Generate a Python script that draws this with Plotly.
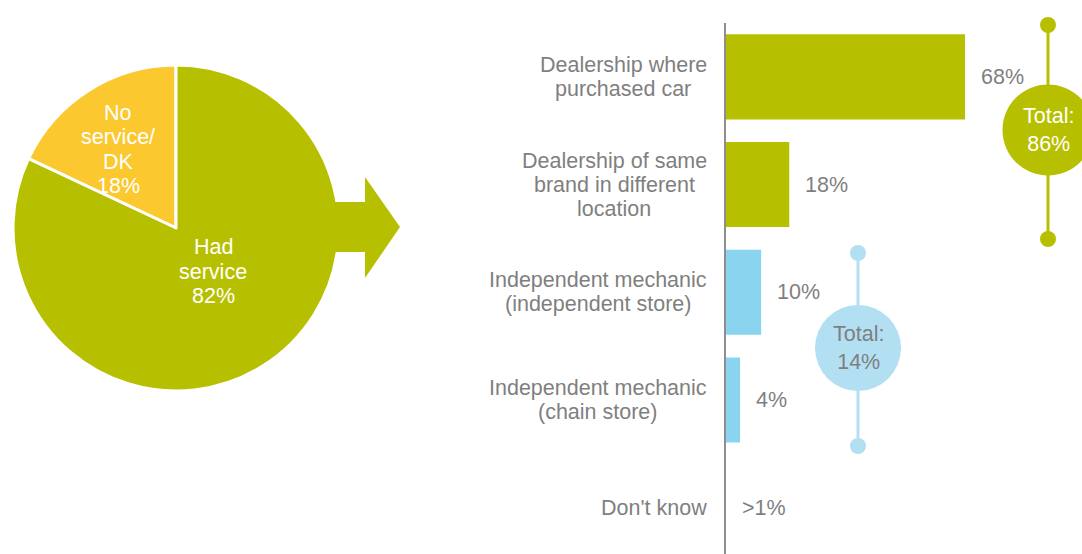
import plotly.graph_objects as go

# ---- data ----
pie_labels = ["No<br>service/<br>DK", "Had<br>service"]
pie_values = [18, 82]

categories = [
    "Dealership where<br>purchased car",
    "Dealership of same<br>brand in different<br>location",
    "Independent mechanic<br>(independent store)",
    "Independent mechanic<br>(chain store)",
    "Don't know",
]
bar_values = [68, 18, 10, 4, 0]
value_labels = ["68%", "18%", "10%", "4%", ">1%"]
dealer_group = [0, 1]        # indices summed into the dealership total
independent_group = [2, 3]   # indices summed into the independent total

# ---- style ----
GREEN = "#B7C000"
YELLOW = "#FCC830"
BLUE = "#8AD4EF"
LIGHT_BLUE = "#B2E0F2"
GRAY = "#7F7F7F"
AXIS_GRAY = "#8E8E8E"
FONT = "Liberation Sans, Arial, sans-serif"
FS = 21.5

W, H = 1082, 554


def px(x):
    return x / W


def py(y):
    return 1 - y / H


# Arial / Liberation Sans advance widths (per em) for centring multi-line labels
CHAR_W = {
    "a": .556, "b": .556, "c": .5, "d": .556, "e": .556, "f": .278, "g": .556,
    "h": .556, "i": .222, "k": .5, "l": .222, "m": .833, "n": .556, "o": .556,
    "p": .556, "r": .333, "s": .5, "t": .278, "u": .556, "v": .5, "w": .722,
    "D": .722, "I": .278, "H": .722, "N": .722, "K": .667, " ": .278, "(": .333,
    ")": .333, "'": .191, "/": .278,
}


def text_width(s, size=FS):
    return sum(CHAR_W.get(ch, .556) for ch in s) * size


fig = go.Figure()

# pie: centre (176, 228), radius 163 px; first slice runs anticlockwise from 12 o'clock
fig.add_trace(go.Pie(
    labels=[l.replace("<br>", " ") for l in pie_labels],
    values=pie_values,
    sort=False,
    direction="clockwise",
    rotation=-64.8,
    marker=dict(colors=[YELLOW, GREEN], line=dict(color="white", width=3)),
    textinfo="none",
    hoverinfo="label+percent",
    showlegend=False,
    domain=dict(x=[px(13), px(339)], y=[py(391), py(65)]),
))

bar_colors = [GREEN if i in dealer_group else BLUE for i in range(len(categories))]
fig.add_trace(go.Bar(
    x=bar_values,
    y=categories,
    orientation="h",
    marker=dict(color=bar_colors, line=dict(width=0)),
    width=0.79,
    showlegend=False,
    hoverinfo="x+y",
))

X0 = 726
PX_PER_PCT = 3.515
fig.update_layout(
    width=W, height=H,
    margin=dict(l=0, r=0, t=0, b=0),
    paper_bgcolor="white",
    plot_bgcolor="white",
    font=dict(family=FONT, size=FS, color=GRAY),
    xaxis=dict(
        domain=[px(X0), 1],
        range=[0, (W - X0) / PX_PER_PCT],
        showgrid=False, zeroline=False, showticklabels=False, showline=False,
        fixedrange=True,
    ),
    yaxis=dict(
        domain=[0, py(23)],
        type="category",
        categoryorder="array",
        categoryarray=categories,
        range=[4.43, -0.5],
        showgrid=False, zeroline=False, showticklabels=False,
        showline=True, linecolor=AXIS_GRAY, linewidth=2,
        fixedrange=True,
    ),
)

annotations = []
LINE = 24

# category labels: block right-aligned left of the axis, lines centred
for cat in categories:
    lines = cat.split("<br>")
    block_w = max(text_width(l) for l in lines)
    cx = X0 - 19 - block_w / 2
    n = len(lines)
    for i, l in enumerate(lines):
        annotations.append(dict(
            x=px(cx), xref="paper", y=cat, yref="y",
            yshift=-(i - (n - 1) / 2) * LINE,
            text=l, showarrow=False, xanchor="center", yanchor="middle",
            font=dict(size=FS, color=GRAY),
        ))

# value labels beside bars
for cat, v, lab in zip(categories, bar_values, value_labels):
    annotations.append(dict(
        x=v, xref="x", y=cat, yref="y", xshift=14,
        text=lab, showarrow=False, xanchor="left", yanchor="middle",
        font=dict(size=FS, color=GRAY),
    ))

# pie slice labels
pie_label_pos = [(118, 149.5), (213, 271.5)]
for lab, v, (lx, ly) in zip(pie_labels, pie_values, pie_label_pos):
    lines = lab.split("<br>") + [f"{v}%"]
    n = len(lines)
    for i, l in enumerate(lines):
        annotations.append(dict(
            x=px(lx), xref="paper", y=py(ly + (i - (n - 1) / 2) * 24.3), yref="paper",
            text=l, showarrow=False, xanchor="center", yanchor="middle",
            font=dict(size=FS, color="white"),
        ))

shapes = []

# arrow from pie to bars
arrow = [(334, 202), (365, 202), (365, 177), (400, 227), (365, 278), (365, 252), (334, 252)]
path = "M " + " L ".join(f"{px(x)},{py(y)}" for x, y in arrow) + " Z"
shapes.append(dict(type="path", path=path, xref="paper", yref="paper",
                   fillcolor=GREEN, line=dict(width=0), layer="above"))


def total_badge(cx, top, bottom, cy, r, color, text_color, group):
    shapes.append(dict(type="line", xref="paper", yref="paper",
                       x0=px(cx), x1=px(cx), y0=py(top), y1=py(bottom),
                       line=dict(color=color, width=3)))
    for yy, rr in ((top, 8), (bottom, 8), (cy, r)):
        shapes.append(dict(type="circle", xref="paper", yref="paper",
                           x0=px(cx - rr), x1=px(cx + rr), y0=py(yy + rr), y1=py(yy - rr),
                           fillcolor=color, line=dict(width=0)))
    total = sum(bar_values[i] for i in group)
    annotations.append(dict(
        x=px(cx), xref="paper", y=py(cy), yref="paper",
        text=f"Total:<br>{total}%", showarrow=False,
        xanchor="center", yanchor="middle",
        font=dict(size=FS, color=text_color),
    ))


total_badge(1048, 25, 239, 130, 45.5, GREEN, "white", dealer_group)
total_badge(858, 253, 446, 348, 43, LIGHT_BLUE, GRAY, independent_group)

fig.update_layout(annotations=annotations, shapes=shapes)

fig.write_html("out.html")
